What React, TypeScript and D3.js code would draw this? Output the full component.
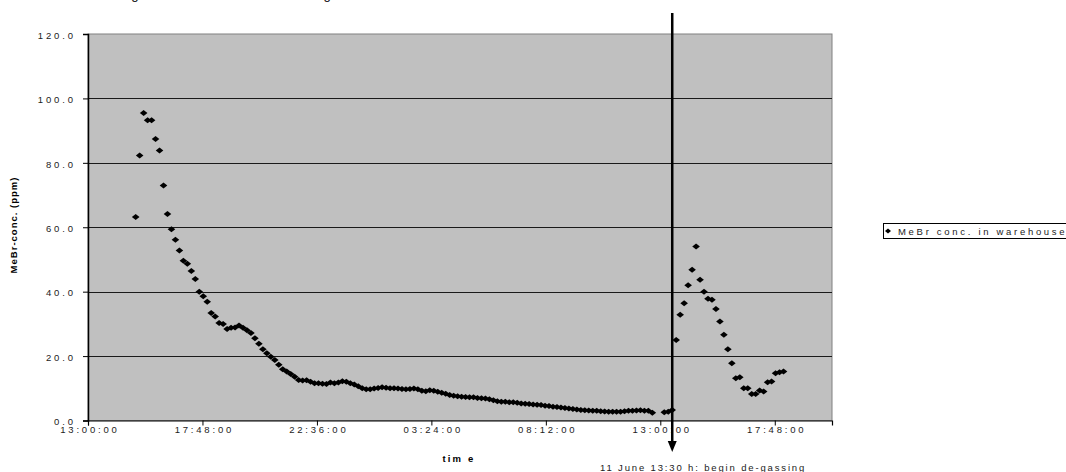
import React from "react";
import * as d3 from "d3";

// MeBr measurements, one sample every 10 minutes
const sampleMinutes = 10;

// 10 June, 15:00 -> 11 June, 12:40 (fumigation)
const fumigationStart = "2003-06-10T15:00:00";
const fumigationConc = [
  63.2, 82.3, 95.5, 93.2, 93.2, 87.4, 83.8, 73.0, 64.1, 59.4,
  56.1, 52.8, 49.6, 48.7, 46.4, 43.9, 40.0, 38.6, 36.9, 33.4,
  32.3, 30.3, 30.0, 28.4, 28.8, 28.9, 29.5, 28.8, 28.0, 27.2,
  25.5, 23.8, 22.1, 20.9, 19.8, 18.8, 17.3, 15.9, 15.2, 14.4,
  13.6, 12.6, 12.4, 12.5, 12.0, 11.6, 11.6, 11.4, 11.35, 11.8,
  11.6, 11.8, 12.2, 12.0, 11.6, 11.2, 10.6, 10.0, 9.7, 9.7,
  9.9, 10.1, 10.3, 10.2, 10.0, 10.0, 9.9, 9.8, 9.7, 9.8,
  9.9, 9.7, 9.2, 9.1, 9.4, 9.2, 8.9, 8.6, 8.3, 7.9,
  7.7, 7.5, 7.4, 7.3, 7.2, 7.2, 7.0, 6.9, 6.8, 6.6,
  6.3, 6.0, 5.85, 5.8, 5.7, 5.65, 5.5, 5.3, 5.2, 5.1,
  5.0, 4.9, 4.8, 4.6, 4.5, 4.3, 4.2, 4.0, 3.85, 3.7,
  3.55, 3.4, 3.25, 3.2, 3.1, 3.05, 3.0, 2.9, 2.8, 2.75,
  2.75, 2.7, 2.75, 2.85, 3.0, 3.05, 3.1, 3.2, 3.05, 3.05,
  2.4
];

// 11 June, 13:10 -> 18:10 (de-gassing)
const degassingStart = "2003-06-11T13:10:00";
const degassingConc = [
  2.55, 2.75, 3.25, 25.0, 32.8, 36.4, 42.0, 46.8, 54.0, 43.7,
  40.0, 37.8, 37.5, 34.6, 30.7, 26.6, 22.1, 17.8, 13.1, 13.4,
  10.0, 10.0, 8.2, 8.2, 9.3, 9.0, 11.9, 12.1, 14.7, 15.0,
  15.2
];

const axisStart = "2003-06-10T13:00:00";
const axisEnd = "2003-06-11T20:12:00";
const tickHours = [0, 4.8, 9.6, 14.4, 19.2, 24, 28.8];
const yTicks = [0, 20, 40, 60, 80, 100, 120];
const degassingMark = "2003-06-11T13:30:00";

const seriesName = "MeBr conc. in warehouse";
const yTitle = "MeBr-conc. (ppm)";
const xTitle = "tim e";
const markLabel = "11 June 13:30 h: begin de-gassing";
const chartTitle = "Fumigation of warehouse and following de-aeration";

const W = 1066, H = 472;
const plot = { left: 88, right: 832, top: 34, bottom: 420.5 };
const font = "Arial, 'Liberation Sans', sans-serif";

function toPoints(start: string, values: number[]) {
  const t0 = new Date(start).getTime();
  return values.map((v, i) => ({ t: new Date(t0 + i * sampleMinutes * 60000), v }));
}

export default function App() {
  const ref = React.useRef<SVGSVGElement>(null);

  React.useEffect(() => {
    const svg = d3.select(ref.current);
    svg.selectAll("*").remove();

    const x = d3.scaleTime()
      .domain([new Date(axisStart), new Date(axisEnd)])
      .range([plot.left, plot.right]);
    const y = d3.scaleLinear().domain([0, 120]).range([plot.bottom, plot.top]);

    const data = [
      ...toPoints(fumigationStart, fumigationConc),
      ...toPoints(degassingStart, degassingConc)
    ];

    // title runs off the top edge, only the descenders show
    svg.append("text")
      .attr("x", 102).attr("y", -1)
      .attr("font-family", font).attr("font-size", 13.2)
      .text(chartTitle);

    // plot area
    svg.append("rect")
      .attr("x", plot.left).attr("y", plot.top)
      .attr("width", plot.right - plot.left).attr("height", plot.bottom - plot.top)
      .attr("fill", "#c0c0c0").attr("stroke", "#808080");

    svg.append("g")
      .selectAll("line")
      .data(yTicks.filter(d => d > 0 && d < 120))
      .join("line")
        .attr("x1", plot.left).attr("x2", plot.right)
        .attr("y1", d => Math.round(y(d)) + 0.5).attr("y2", d => Math.round(y(d)) + 0.5)
        .attr("stroke", "#1a1a1a");

    // y axis
    const t0 = new Date(axisStart).getTime();
    const gy = svg.append("g").attr("transform", `translate(${plot.left},0)`)
      .call(d3.axisLeft(y).tickValues(yTicks).tickSize(5).tickFormat(d3.format(".1f")));
    gy.select(".domain").attr("stroke", "#000").attr("stroke-width", 1.5);
    gy.selectAll(".tick text")
      .attr("font-family", font).attr("font-size", 9.5)
      .attr("letter-spacing", 2.9).attr("fill", "#222")
      .attr("x", -12).attr("dy", "0.45em");

    // x axis
    const gx = svg.append("g").attr("transform", `translate(0,${plot.bottom})`)
      .call(d3.axisBottom(x)
        .tickValues(tickHours.map(h => new Date(t0 + h * 3600000)))
        .tickSize(5)
        .tickFormat(d3.timeFormat("%H:%M:%S") as any));
    gx.select(".domain").attr("stroke", "#000").attr("stroke-width", 1.2);
    gx.selectAll(".tick text")
      .attr("font-family", font).attr("font-size", 9.5)
      .attr("letter-spacing", 2.8).attr("fill", "#222")
      .attr("dx", 1.4).attr("y", 12.5).attr("dy", "0");

    // titles
    svg.append("text")
      .attr("transform", `translate(17,225) rotate(-90)`)
      .attr("text-anchor", "middle")
      .attr("font-family", font).attr("font-size", 9.5).attr("font-weight", "bold")
      .attr("letter-spacing", 1)
      .text(yTitle);
    svg.append("text")
      .attr("x", 459).attr("y", 461.5).attr("text-anchor", "middle")
      .attr("font-family", font).attr("font-size", 9.5).attr("font-weight", "bold")
      .attr("letter-spacing", 2.2)
      .text(xTitle);

    // markers
    const diamond = "M0,-3L3.8,0L0,3L-3.8,0Z";
    svg.append("g")
      .selectAll("path")
      .data(data)
      .join("path")
        .attr("transform", d => `translate(${x(d.t)},${y(d.v)})`)
        .attr("d", diamond)
        .attr("fill", "#000");

    // de-gassing arrow
    const mx = x(new Date(degassingMark));
    svg.append("line")
      .attr("x1", mx).attr("x2", mx).attr("y1", 13).attr("y2", 443)
      .attr("stroke", "#000").attr("stroke-width", 2.5);
    svg.append("path")
      .attr("d", `M${mx - 4.5},441L${mx + 4.5},441L${mx},452Z`)
      .attr("fill", "#000");
    svg.append("text")
      .attr("x", 600).attr("y", 470.5)
      .attr("font-family", font).attr("font-size", 9.5)
      .attr("letter-spacing", 1.85).attr("fill", "#222")
      .text(markLabel);

    // legend
    const lg = svg.append("g").attr("transform", "translate(883,223)");
    lg.append("rect")
      .attr("x", 0.5).attr("y", 0.5).attr("width", 200).attr("height", 15)
      .attr("fill", "#fff").attr("stroke", "#000");
    lg.append("path")
      .attr("transform", "translate(5,8)")
      .attr("d", "M0,-2.5L3,0L0,2.5L-3,0Z")
      .attr("fill", "#000");
    lg.append("text")
      .attr("x", 15).attr("y", 11.5)
      .attr("font-family", font).attr("font-size", 9.5)
      .attr("letter-spacing", 2.7).attr("fill", "#222")
      .text(seriesName);
  }, []);

  return (
    <svg ref={ref} width={W} height={H}
      style={{ position: "absolute", left: 0, top: 0, display: "block", overflow: "hidden", background: "#fff" }} />
  );
}
